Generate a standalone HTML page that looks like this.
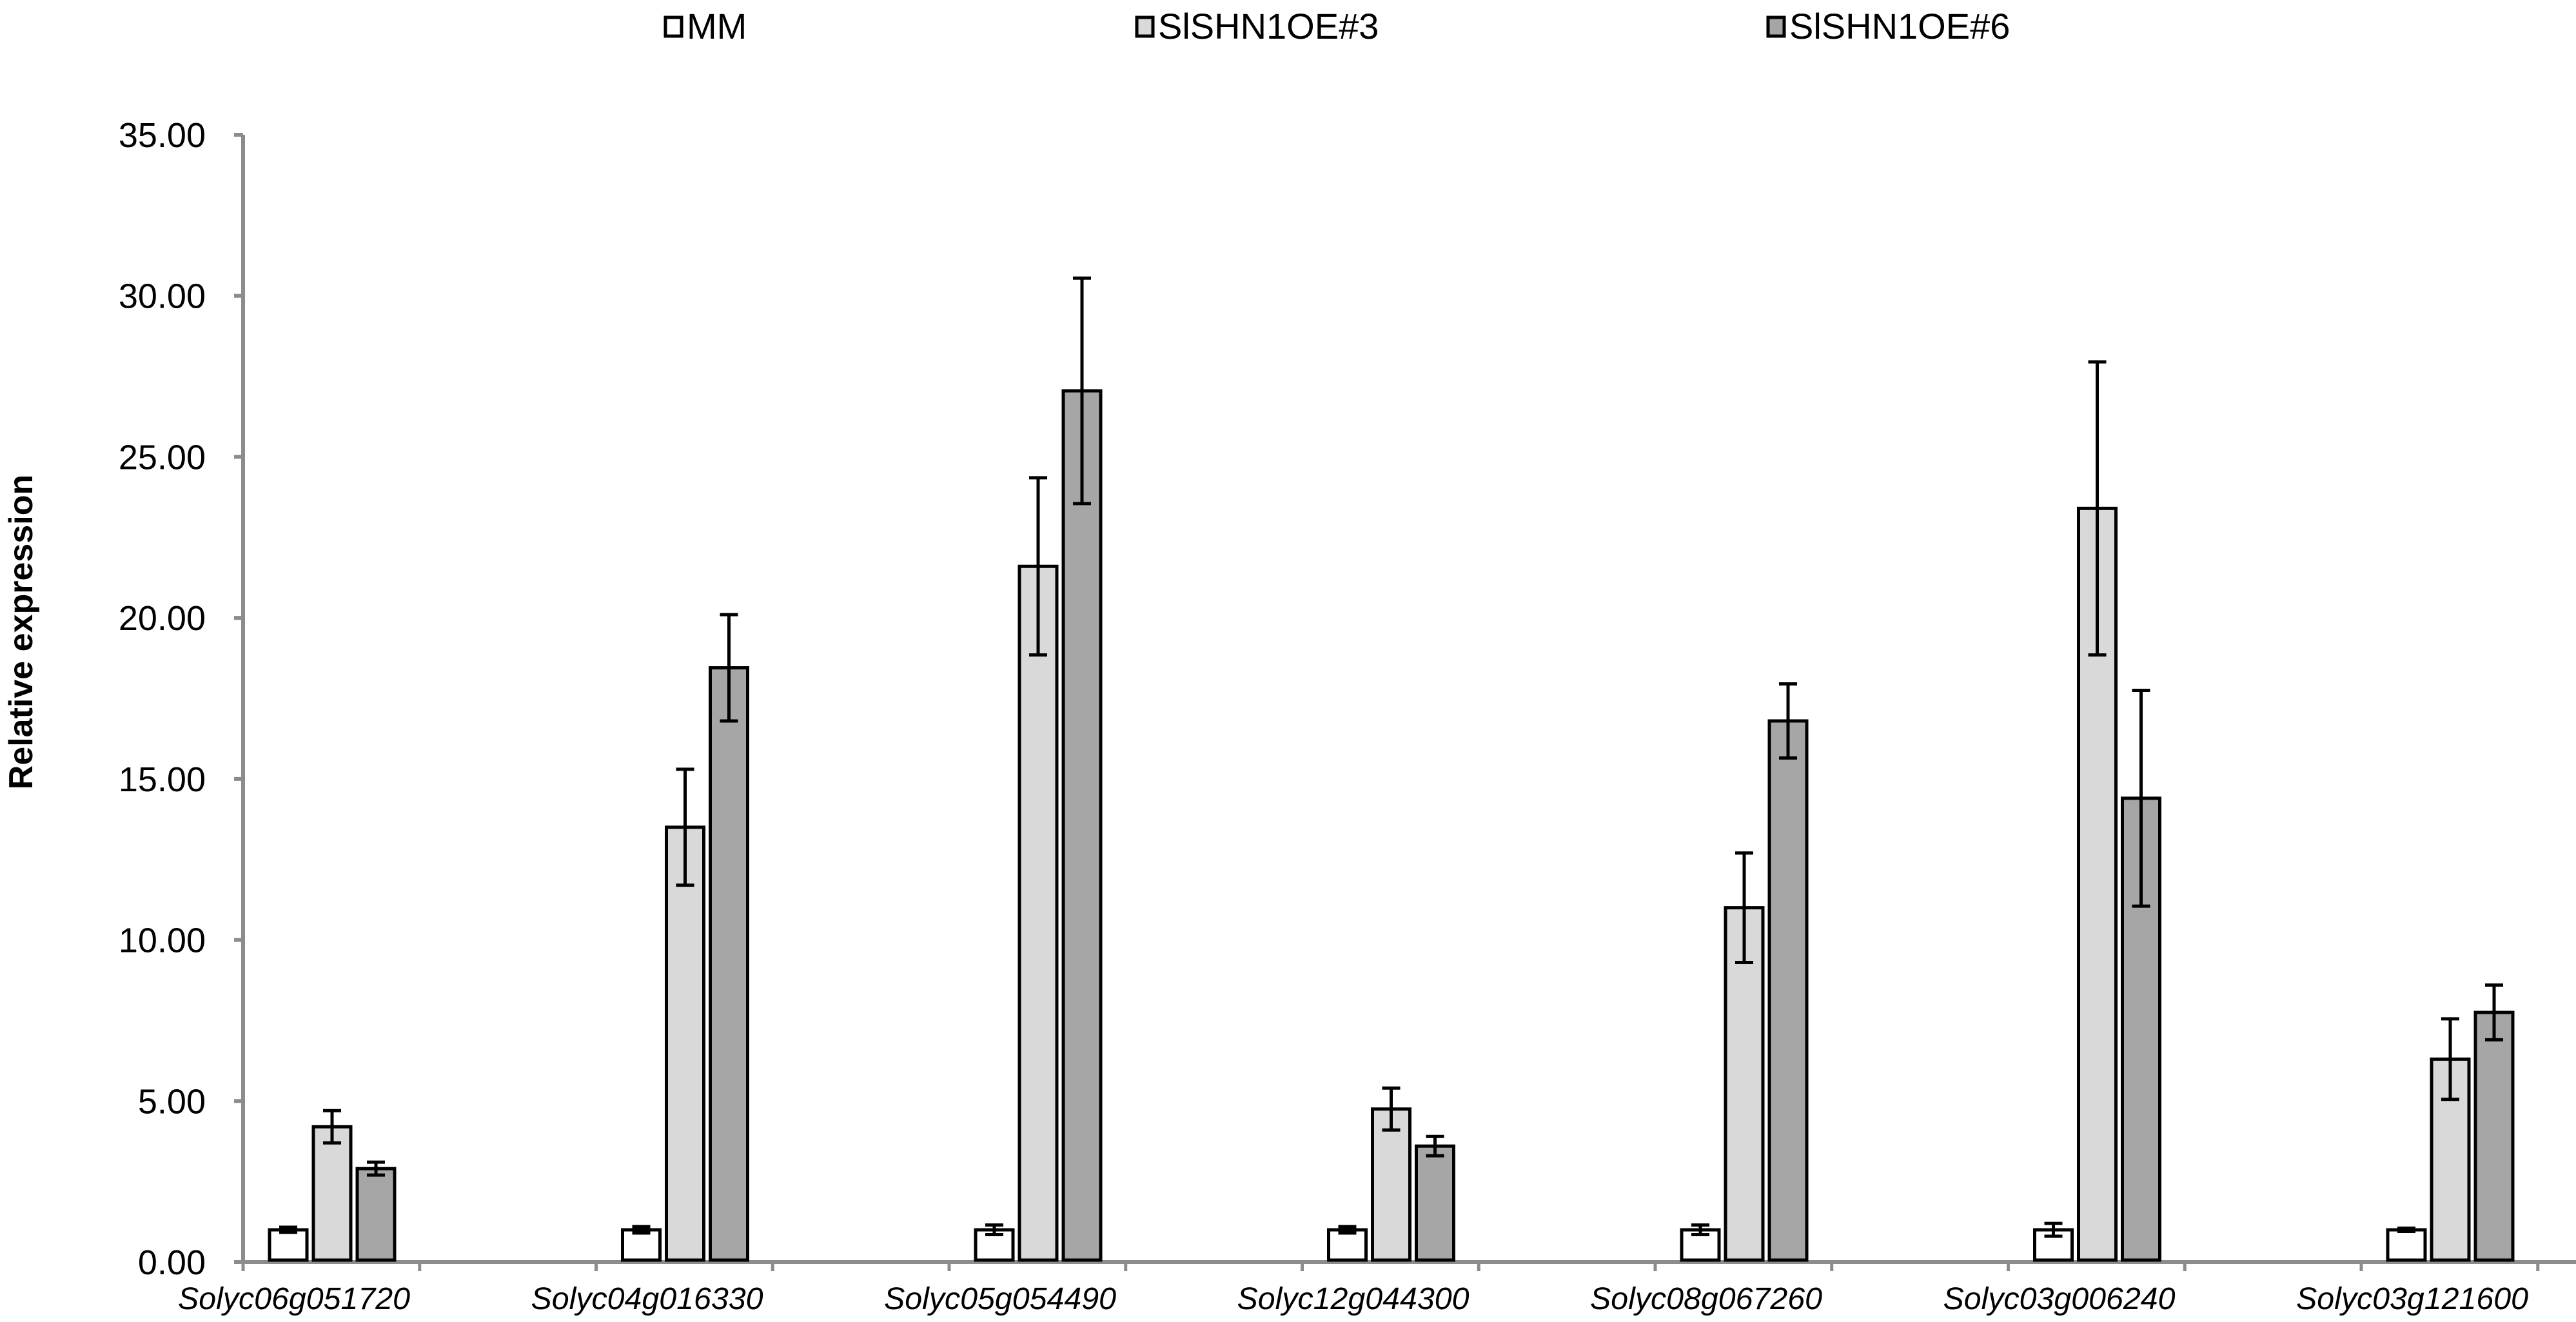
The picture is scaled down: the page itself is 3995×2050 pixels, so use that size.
<!DOCTYPE html>
<html><head><meta charset="utf-8"><style>
html,body{margin:0;padding:0;background:#fff;}
svg{display:block;font-family:"Liberation Sans",sans-serif;}
</style></head><body>
<svg id="chart" width="3995" height="2050" viewBox="0 0 3995 2050">
<g id="legend"></g>
<g id="yaxis"></g>
<g id="xaxis"></g>
<g id="bars"></g>
<text x="50" y="980" transform="rotate(-90 50 980)" text-anchor="middle" font-size="52" font-weight="bold">Relative expression</text>
</svg>
<script>
const categories = ["Solyc06g051720","Solyc04g016330","Solyc05g054490","Solyc12g044300","Solyc08g067260","Solyc03g006240","Solyc03g121600"];
const seriesNames = ["MM","SlSHN1OE#3","SlSHN1OE#6"];
const mmValues = [1.0,1.0,1.0,1.0,1.0,1.0,1.0];
const mmErrors = [0.08,0.1,0.15,0.1,0.15,0.2,0.05];
const oe3Values = [4.2,13.5,21.6,4.75,11.0,23.4,6.3];
const oe3Errors = [0.5,1.8,2.75,0.65,1.7,4.55,1.25];
const oe6Values = [2.9,18.45,27.05,3.6,16.8,14.4,7.75];
const oe6Errors = [0.2,1.65,3.5,0.3,1.15,3.35,0.85];
const yTicks = [0,5,10,15,20,25,30,35];
const yTickLabels = ["0.00","5.00","10.00","15.00","20.00","25.00","30.00","35.00"];

const NS="http://www.w3.org/2000/svg";
const x0=377, y0=1957, yTop=209, yMax=35, catW=547.5, barW=58, barStep=68, groupOff=41;
const fills=["#ffffff","#d9d9d9","#a6a6a6"];
const yScale=v=>y0-(v/yMax)*(y0-yTop);
const xBar=(i,s)=>x0+groupOff+i*catW+s*barStep;
function mk(tag,attrs,parent){const e=document.createElementNS(NS,tag);for(const k in attrs)e.setAttribute(k,attrs[k]);parent.appendChild(e);return e;}
const yg=document.getElementById('yaxis'),xg=document.getElementById('xaxis'),bg=document.getElementById('bars'),lg=document.getElementById('legend');
let l=mk('line',{x1:x0,y1:yTop,x2:x0,y2:y0+3,stroke:'#8c8c8c','stroke-width':6},yg);


yTicks.forEach((t,i)=>{
  const y=yScale(t);
  const tk=mk('line',{x1:x0-14,y1:y,x2:x0,y2:y,stroke:'#8c8c8c','stroke-width':6},yg);
  
  
  const tx=mk('text',{x:319,y:y+19,'text-anchor':'end','font-size':54},yg);
  tx.textContent=yTickLabels[i];
  
  
});
l=mk('line',{x1:x0-3,y1:y0,x2:3995,y2:y0,stroke:'#8c8c8c','stroke-width':6},xg);


for(let k=0;k<=14;k++){
  const x=x0+k*catW/2; if(x>3992)break;
  const tk=mk('line',{x1:x,y1:y0,x2:x,y2:y0+14,stroke:'#8c8c8c','stroke-width':5},xg);
  
  
}
const vals=[mmValues,oe3Values,oe6Values],errs=[mmErrors,oe3Errors,oe6Errors];
categories.forEach((c,i)=>{
  const tx=mk('text',{x:xBar(i,1)+barW/2-59,y:2030,'text-anchor':'middle','font-size':48,'font-style':'italic',textLength:360,lengthAdjust:'spacingAndGlyphs'},xg);
  tx.textContent=c;
  
  
  for(let s=0;s<3;s++){
    const v=vals[s][i],e=errs[s][i],x=xBar(i,s),y=yScale(v);
    const r=mk('rect',{x:x,y:y,width:barW,height:y0-y-3,fill:fills[s],stroke:'#000','stroke-width':5},bg);
    
    
    const cx=x+barW/2,yh=yScale(v+e),yl=yScale(v-e);
    const eb=mk('path',{d:`M${cx},${yh}V${yl}M${cx-14},${yh}H${cx+14}M${cx-14},${yl}H${cx+14}`,stroke:'#000','stroke-width':5,fill:'none'},bg);
    
    
  }
});
const legX=[1032,1763,2742];
seriesNames.forEach((n,s)=>{
  const r=mk('rect',{x:legX[s],y:27,width:25,height:29,fill:fills[s],stroke:'#000','stroke-width':5},lg);
  
  
  const t=mk('text',{x:legX[s]+33,y:60,'font-size':56},lg);
  t.textContent=n;
  
  
});
</script>
</body></html>
